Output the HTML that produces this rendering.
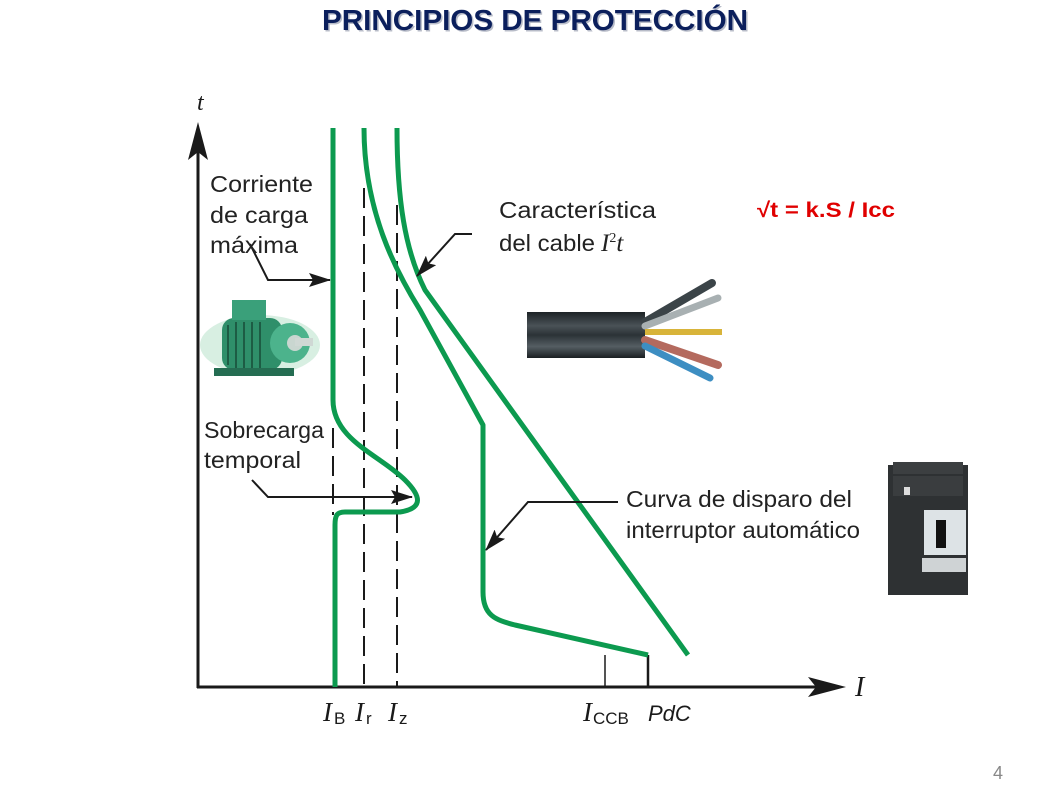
<!DOCTYPE html>
<html><head><meta charset="utf-8"><style>
html,body{margin:0;padding:0;background:#fff;}
body{width:1053px;height:793px;overflow:hidden;position:relative;font-family:"Liberation Sans",sans-serif;}
</style></head><body>
<svg width="1053" height="793" viewBox="0 0 1053 793" xmlns="http://www.w3.org/2000/svg" style="position:absolute;left:0;top:0">
<defs>
<marker id="ah" markerWidth="22" markerHeight="14" refX="21" refY="7" orient="auto" markerUnits="userSpaceOnUse">
<path d="M0,0 L22,7 L0,14 L4,7 Z" fill="#1a1a1a"/></marker>
<linearGradient id="cab" x1="0" y1="0" x2="0" y2="1"><stop offset="0" stop-color="#1d2326"/><stop offset="0.3" stop-color="#4a5257"/><stop offset="0.5" stop-color="#2b3236"/><stop offset="0.75" stop-color="#555e63"/><stop offset="1" stop-color="#1a1f22"/></linearGradient>
</defs>
<text x="322" y="30" textLength="426" lengthAdjust="spacingAndGlyphs" font-family="Liberation Sans" font-weight="bold" font-size="29" fill="#b8bcc8" transform="translate(1.5,1.5)">PRINCIPIOS DE PROTECCIÓN</text>
<text x="322" y="30" textLength="426" lengthAdjust="spacingAndGlyphs" font-family="Liberation Sans" font-weight="bold" font-size="29" fill="#0b1f5c">PRINCIPIOS DE PROTECCIÓN</text>

<line x1="198" y1="688" x2="198" y2="140" stroke="#1a1a1a" stroke-width="3"/>
<path d="M198,122 L188,160 L198,152 L208,160 Z" fill="#1a1a1a"/>
<line x1="197" y1="687" x2="830" y2="687" stroke="#1a1a1a" stroke-width="3"/>
<path d="M846,687 L808,677 L816,687 L808,697 Z" fill="#1a1a1a"/>
<text x="197" y="110" font-family="Liberation Serif" font-style="italic" font-size="24" fill="#1a1a1a">t</text>
<text x="855" y="696" font-family="Liberation Serif" font-style="italic" font-size="28" fill="#1a1a1a">I</text>

<g stroke="#1a1a1a" stroke-width="2" stroke-dasharray="20,8" fill="none">
<line x1="364" y1="188" x2="364" y2="687"/>
<line x1="397" y1="205" x2="397" y2="687"/>
<line x1="333" y1="428" x2="333" y2="515"/>
</g>
<line x1="605" y1="655" x2="605" y2="687" stroke="#1a1a1a" stroke-width="1.5"/>
<line x1="648" y1="655" x2="648" y2="687" stroke="#1a1a1a" stroke-width="2.5"/>

<g stroke="#0c9a4f" stroke-width="5" fill="none" stroke-linejoin="round">
<path d="M333,128 L333,400 C333,440 380,455 405,480 C420,495 425,508 400,512 L345,512 C337,512 335,515 335,525 L335,687"/>
<path d="M364,128 C364,210 395,270 420,310 L483,425 L483,592 C483,615 495,620 515,625 L648,655"/>
<path d="M397,128 C397,200 405,250 425,290 L688,655"/>
</g>

<g stroke="#1a1a1a" stroke-width="2" fill="none">
<polyline points="250,244 268,280 330,280" marker-end="url(#ah)"/>
<polyline points="472,234 455,234 417,276" marker-end="url(#ah)"/>
<polyline points="252,480 268,497 412,497" marker-end="url(#ah)"/>
<polyline points="618,502 528,502 486,550" marker-end="url(#ah)"/>
</g>

<g font-family="Liberation Sans" font-size="23" fill="#222">
<text x="210" y="192" textLength="103" lengthAdjust="spacingAndGlyphs">Corriente</text>
<text x="210" y="223" textLength="98" lengthAdjust="spacingAndGlyphs">de carga</text>
<text x="210" y="253" textLength="88" lengthAdjust="spacingAndGlyphs">máxima</text>
<text x="499" y="218" textLength="157" lengthAdjust="spacingAndGlyphs">Característica</text>
<text x="499" y="251"><tspan textLength="96" lengthAdjust="spacingAndGlyphs">del cable</tspan> <tspan x="601" font-family="Liberation Serif" font-style="italic" font-size="25">I</tspan><tspan font-family="Liberation Serif" font-size="14" dy="-9">2</tspan><tspan font-family="Liberation Serif" font-style="italic" font-size="25" dy="9">t</tspan></text>
<text x="204" y="438" textLength="120" lengthAdjust="spacingAndGlyphs">Sobrecarga</text>
<text x="204" y="468" textLength="97" lengthAdjust="spacingAndGlyphs">temporal</text>
<text x="626" y="507" textLength="226" lengthAdjust="spacingAndGlyphs">Curva de disparo del</text>
<text x="626" y="538" textLength="234" lengthAdjust="spacingAndGlyphs">interruptor automático</text>
</g>
<g fill="#1a1a1a">
<text x="323" y="721" font-family="Liberation Serif" font-style="italic" font-size="27">I</text>
<text x="334" y="724" font-family="Liberation Sans" font-size="17">B</text>
<text x="355" y="721" font-family="Liberation Serif" font-style="italic" font-size="27">I</text>
<text x="366" y="724" font-family="Liberation Sans" font-size="17">r</text>
<text x="388" y="721" font-family="Liberation Serif" font-style="italic" font-size="27">I</text>
<text x="399" y="724" font-family="Liberation Sans" font-size="17">z</text>
<text x="583" y="721" font-family="Liberation Serif" font-style="italic" font-size="27">I</text>
<text x="593" y="724" font-family="Liberation Sans" font-size="17">CCB</text>
<text x="648" y="721" font-family="Liberation Sans" font-style="italic" font-size="22">PdC</text>
</g>
<text x="757" y="217" textLength="138" lengthAdjust="spacingAndGlyphs" font-family="Liberation Sans" font-weight="bold" font-size="21" fill="#e00000">√t = k.S / Icc</text>
<text x="993" y="779" font-family="Liberation Sans" font-size="18" fill="#888">4</text>

<g>
<ellipse cx="260" cy="345" rx="60" ry="30" fill="#d8efe2"/>
<rect x="222" y="318" width="60" height="52" rx="12" fill="#2f8f6a"/>
<g stroke="#1d5c44" stroke-width="2"><line x1="228" y1="325" x2="228" y2="365"/><line x1="236" y1="322" x2="236" y2="368"/><line x1="244" y1="322" x2="244" y2="368"/><line x1="252" y1="322" x2="252" y2="368"/><line x1="260" y1="322" x2="260" y2="368"/></g>
<rect x="232" y="300" width="34" height="20" fill="#3aa07a"/>
<circle cx="290" cy="343" r="20" fill="#4cb38c"/>
<circle cx="295" cy="343" r="8" fill="#c9d6d0"/>
<rect x="295" y="338" width="18" height="8" fill="#cfd8d4"/>
<rect x="214" y="368" width="80" height="8" fill="#256d52"/>
</g>
<g>
<rect x="527" y="312" width="118" height="46" fill="url(#cab)"/>
<path d="M645,322 L712,283" stroke="#3b4448" stroke-width="8" stroke-linecap="round"/>
<path d="M645,326 L718,298" stroke="#a8b0b2" stroke-width="7" stroke-linecap="round"/>
<path d="M645,332 L722,332" stroke="#d8b43a" stroke-width="6"/>
<path d="M645,340 L718,365" stroke="#b46a5e" stroke-width="8" stroke-linecap="round"/>
<path d="M645,346 L710,378" stroke="#3d8ec2" stroke-width="7" stroke-linecap="round"/>
</g>
<g>
<rect x="888" y="465" width="80" height="130" fill="#2e3133"/>
<rect x="893" y="462" width="70" height="12" fill="#3c3f41"/>
<rect x="893" y="476" width="70" height="20" fill="#3a3d3f"/>
<rect x="924" y="510" width="42" height="45" fill="#dde3e6"/>
<rect x="936" y="520" width="10" height="28" fill="#111"/>
<rect x="922" y="558" width="44" height="14" fill="#cfd3d5"/>
<rect x="904" y="487" width="6" height="8" fill="#ddd"/>
</g>
</svg>
</body></html>
